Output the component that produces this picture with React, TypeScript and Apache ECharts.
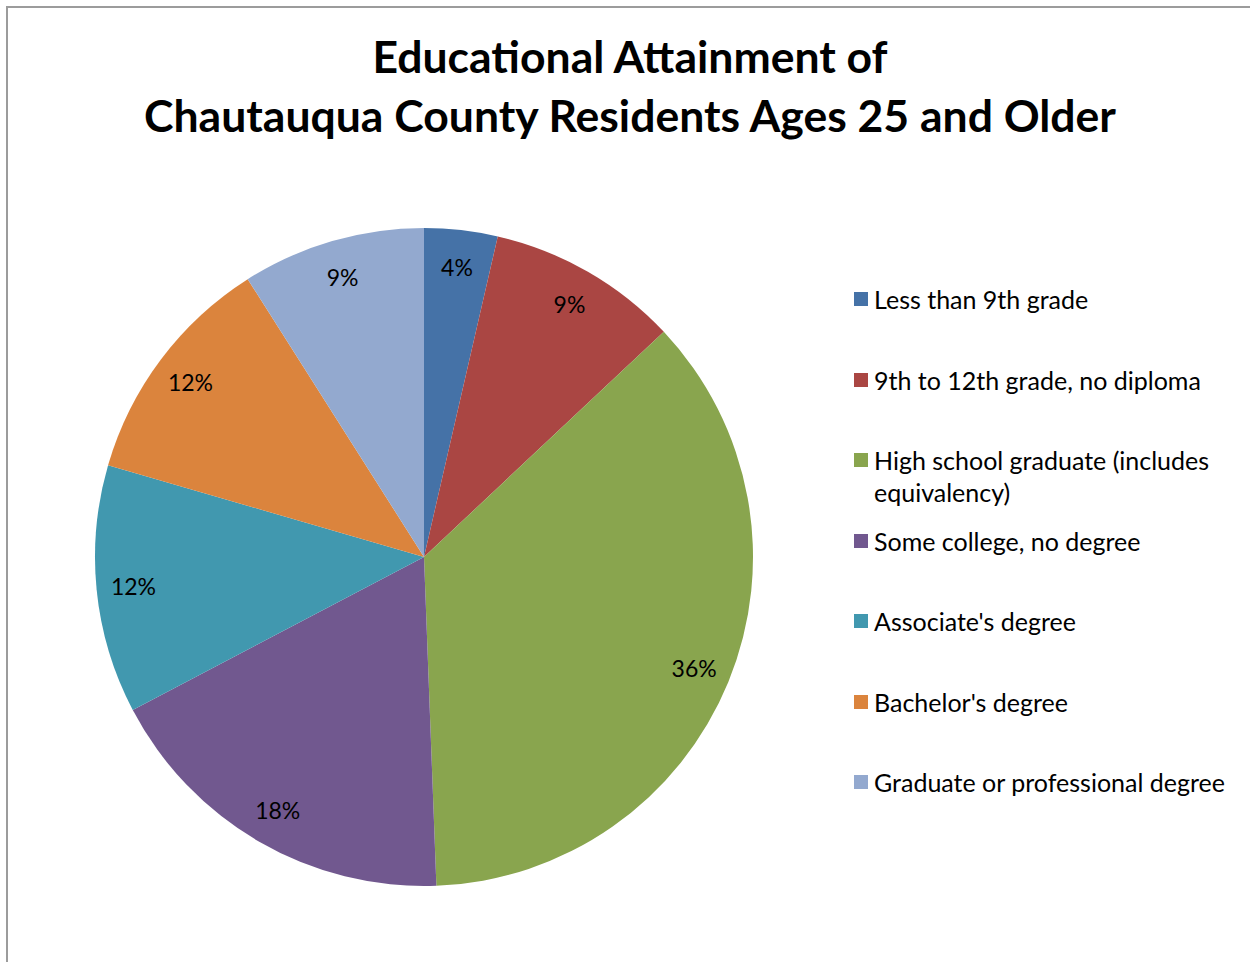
import React, { useEffect, useRef } from "react";
import * as echarts from "echarts";

const categories = [
  "Less than 9th grade",
  "9th to 12th grade, no diploma",
  "High school graduate (includes equivalency)",
  "Some college, no degree",
  "Associate's degree",
  "Bachelor's degree",
  "Graduate or professional degree",
];
const percents = [3.6, 9.4, 36.4, 17.9, 12.2, 11.5, 9.0];
const colors = ["#4572A7", "#AA4643", "#89A54E", "#71588F", "#4198AF", "#DB843D", "#93A9CF"];
const legendCenters = [299, 380, 460, 541, 621, 702, 782];
const titleText = "Educational Attainment of\nChautauqua County Residents Ages 25 and Older";

const FONT = "Lato";
const LEG_FS = 25;
const LEG_LH = 32;

export default function App() {
  const ref = useRef<HTMLDivElement>(null);
  useEffect(() => {
    if (!ref.current) return;
    const chart = echarts.init(ref.current, undefined, { renderer: "svg" });
    const data = categories.map((c, i) => ({ name: c, value: percents[i], itemStyle: { color: colors[i] } }));
    const legends = categories.map((c, i) => {
      const wrapped = i === 2;
      return {
        left: 854,
        top: wrapped ? legendCenters[i] - 1.5 * LEG_LH : legendCenters[i] - LEG_LH / 2,
        orient: "vertical",
        data: [c],
        itemWidth: 16,
        itemHeight: 14,
        symbolKeepAspect: true,
        padding: 0,
        selectedMode: false,
        icon: "path://M0,0L14,0L14,14L0,14Z",
        formatter: wrapped ? () => "\nHigh school graduate (includes\nequivalency)" : undefined,
        textStyle: {
          fontFamily: FONT,
          fontSize: LEG_FS,
          color: "#000",
          lineHeight: LEG_LH,
        },
      };
    });
    chart.setOption({
      animation: false,
      title: {
        text: titleText,
        left: 625,
        textAlign: "center",
        top: 21,
        textStyle: { fontFamily: FONT, fontSize: 44.5, fontWeight: "bold", color: "#000", lineHeight: 59 },
      },
      legend: legends,
      graphic: [
        {
          type: "rect",
          shape: { x: 7, y: 7, width: 1400, height: 1100 },
          style: { fill: "none", stroke: "#9c9c9c", lineWidth: 2 },
          silent: true,
          z: -1,
        },
      ],
      series: [
        {
          type: "pie",
          center: [424, 557],
          radius: [0, 329],
          startAngle: 90,
          clockwise: true,
          data,
          label: { show: false },
          labelLine: { show: false },
          emphasis: { disabled: true },
          silent: true,
        },
        {
          type: "pie",
          center: [424, 557],
          radius: [249, 329],
          startAngle: 90,
          clockwise: true,
          data: categories.map((c, i) => ({ name: c, value: percents[i] })),
          itemStyle: { color: "transparent" },
          label: {
            show: true,
            position: "inside",
            formatter: (p: any) => `${Math.round(p.value)}%`,
            fontFamily: FONT,
            fontSize: 23,
            color: "#000",
          },
          labelLine: { show: false },
          emphasis: { disabled: true },
          silent: true,
          legendHoverLink: false,
        },
      ],
    });
    return () => chart.dispose();
  }, []);
  return (
    <div
      ref={ref}
      style={{ position: "fixed", left: 0, top: 0, width: 1250, height: 962, background: "#fff" }}
    />
  );
}
